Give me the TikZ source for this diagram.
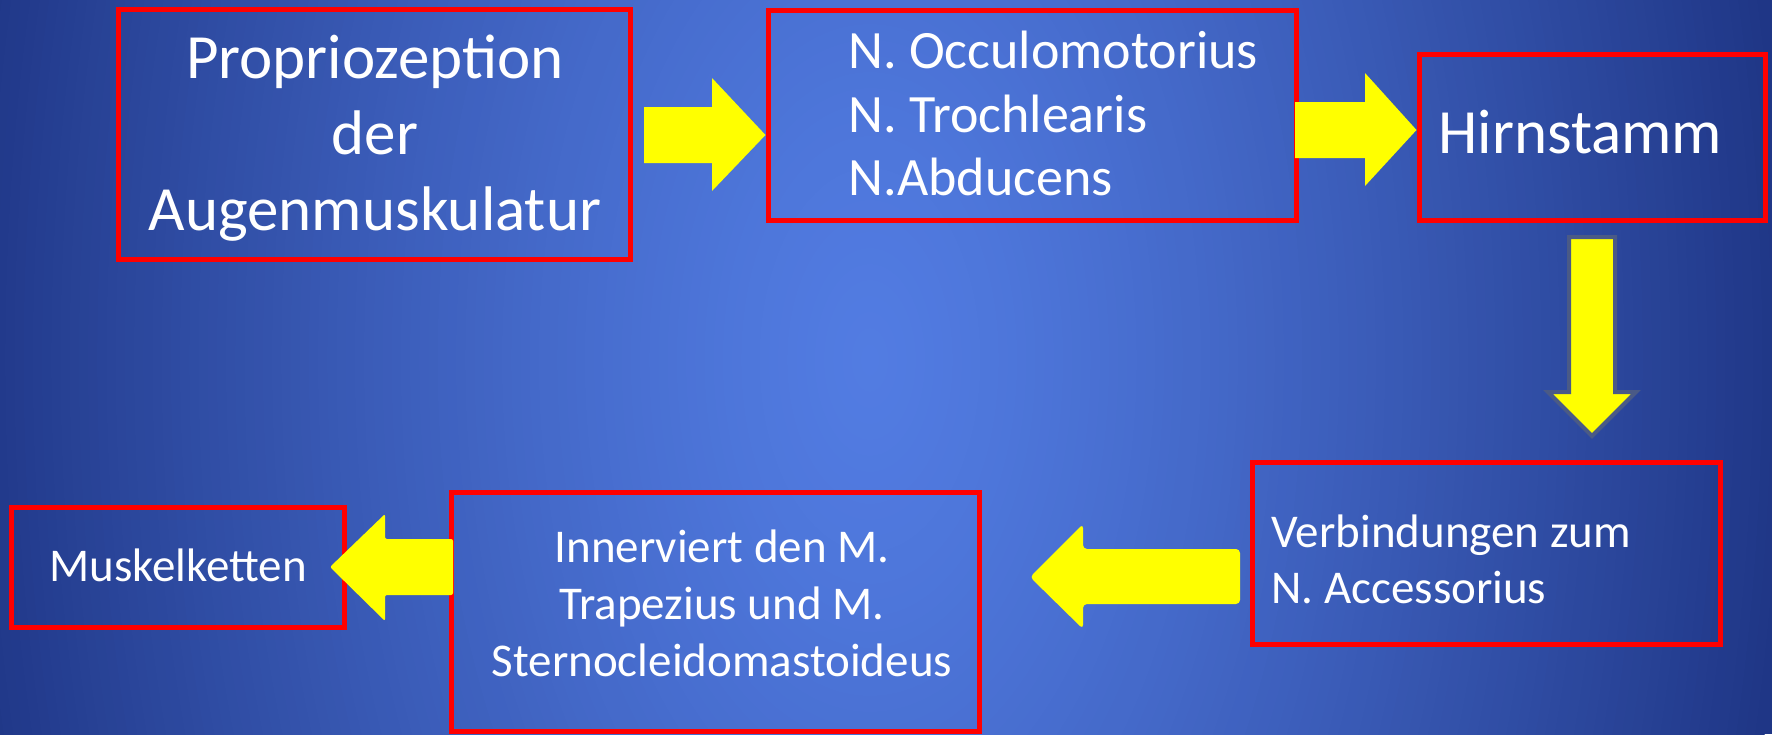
\documentclass[tikz,border=0pt]{standalone}
\usepackage{fontspec}
\setmainfont{Carlito}
\usetikzlibrary{fit}
\definecolor{bgin}{HTML}{527CE2}
\definecolor{bgout}{HTML}{1F3686}
\definecolor{redb}{HTML}{FF0000}
\definecolor{yel}{HTML}{FFFF00}
\definecolor{outl}{HTML}{4A5A86}
\begin{document}
\begin{tikzpicture}[x=0.5pt,y=-0.5pt,
  box/.style={draw=redb, line width=2.5pt, inner sep=0pt, line join=miter},
  txt/.style={text=white, inner sep=0pt},
  big/.style={font=\fontsize{31.5}{38}\selectfont},
  mid/.style={font=\fontsize{27}{32}\selectfont},
  small/.style={font=\fontsize{23.5}{28}\selectfont},
  blockarrow/.style={fill=yel},
  outlinedarrow/.style={fill=yel, draw=outl, line width=2pt, line join=miter}]
\useasboundingbox (0,0) rectangle (1772,734);
\begin{scope}
  \clip (0,0) rectangle (1772,734);
  \fill[bgout] (0,0) rectangle (1772,734);
  \foreach \i in {0,...,99}{
    \pgfmathsetmacro{\t}{1-\i/100}
    \pgfmathsetmacro{\p}{100*(1-(\t)^1.3)}
    \pgfmathsetmacro{\rx}{460*\t}
    \pgfmathsetmacro{\ry}{800*\t}
    \fill[bgin!\p!bgout] (870,360) ellipse [x radius=\rx pt, y radius=\ry pt];
  }
\end{scope}

% boxes
\node[box, fit={(118,9) (630,259)}] (b1) {};
\node[box, fit={(768,10) (1296,220)}] (b2) {};
\node[box, fit={(1419,54) (1765,220)}] (b3) {};
\node[box, fit={(1252,462) (1720,644)}] (b4) {};
\node[box, fit={(451,492) (979,731)}] (b5) {};
\node[box, fit={(11,507) (344,627)}] (b6) {};

% texts
\node[txt, big, anchor=base] (t1a) at (375,78) {Propriozeption};
\node[txt, big, anchor=base] (t1b) at (375,154) {der};
\node[txt, big, anchor=base] (t1c) at (375,230) {Augenmuskulatur};

\node[txt, mid, anchor=base west] (t2a) at (848,68) {N. Occulomotorius};
\node[txt, mid, anchor=base west] (t2b) at (848,132) {N. Trochlearis};
\node[txt, mid, anchor=base west] (t2c) at (848,195) {N.Abducens};

\node[txt, big, anchor=base west] (t3) at (1438,153) {Hirnstamm};

\node[txt, small, anchor=base west] (t4a) at (1271,547) {Verbindungen zum};
\node[txt, small, anchor=base west] (t4b) at (1271,603) {N. Accessorius};

\node[txt, small, anchor=base] (t5a) at (722,562) {Innerviert den M.};
\node[txt, small, anchor=base] (t5b) at (722,619) {Trapezius und M.};
\node[txt, small, anchor=base] (t5c) at (722,676) {Sternocleidomastoideus};

\node[txt, small, anchor=base] (t6) at (178,581) {Muskelketten};

% block arrows
\fill[blockarrow] (644,107) -- (712,107) -- (712,78) -- (b2.west |- 0,135) -- (712,191) -- (712,163) -- (644,163) -- cycle;
\fill[blockarrow] (1295,102) -- (1365,102) -- (1365,73) -- (b3.west |- 0,130) -- (1365,186) -- (1365,158) -- (1295,158) -- cycle;
\filldraw[outlinedarrow] (1569,237) -- (1615,237) -- (1615,392) -- (1636,392) -- (1592,436) -- (1548,392) -- (1569,392) -- cycle;
\fill[blockarrow, rounded corners=2pt] (1240,549) -- (1240,604) -- (1083,604) -- (1083,629) -- (1030,577) -- (1083,524) -- (1083,549) -- cycle;
\fill[blockarrow, rounded corners=1pt] (453,539) -- (453,595) -- (385,595) -- (385,621) -- (330,567) -- (385,514) -- (385,539) -- cycle;
\end{tikzpicture}
\end{document}
